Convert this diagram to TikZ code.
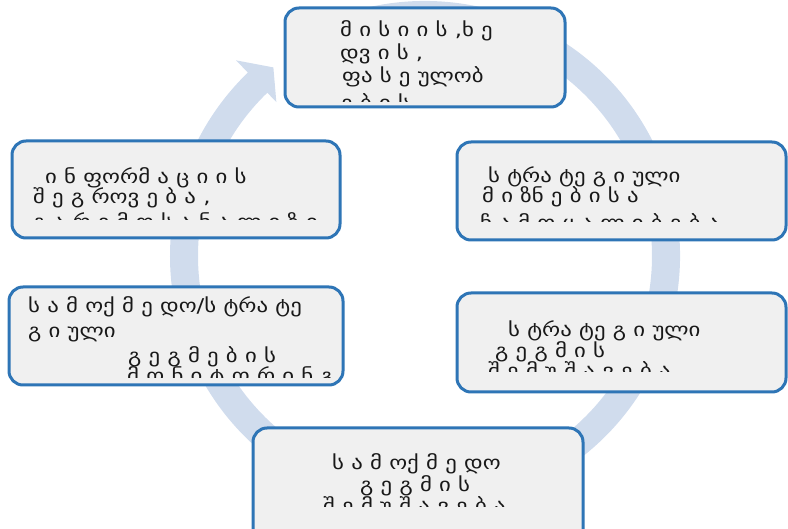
\documentclass[tikz,border=0pt]{standalone}
\usepackage{fontspec}
\newfontfamily\geo[FakeStretch=1.2]{DejaVu Sans}
\definecolor{ringc}{RGB}{208,220,237}
\definecolor{boxline}{RGB}{46,117,182}
\definecolor{boxfill}{RGB}{240,240,240}
\definecolor{txt}{RGB}{25,25,25}
\tikzset{
  stagebox/.style={draw=boxline, line width=3pt, fill=boxfill, rounded corners=14pt},
  ln/.style={anchor=base west, inner sep=0pt, text=txt, font=\geo\fontsize{19}{21}\selectfont}
}
\begin{document}
\begin{tikzpicture}[x=1pt,y=1pt]
\useasboundingbox (0,0) rectangle (788,-529);
% ring arrow
\begin{scope}[shift={(425,-256)}]
\fill[ringc] (118:255) arc[start angle=118, end angle=-226, radius=255]
  -- (-226:272) -- (-231.2:242) -- (-226:214) -- (-226:227)
  arc[start angle=-226, end angle=118, radius=227] -- cycle;
\end{scope}
% boxes
\draw[stagebox] (285,-8) rectangle (565,-107);
\draw[stagebox] (457,-142) rectangle (786,-240);
\draw[stagebox] (457,-293) rectangle (786,-392);
\draw[stagebox] (253,-428) rectangle (583,-545);
\draw[stagebox] (9,-287) rectangle (343,-385);
\draw[stagebox] (12,-141) rectangle (340,-238);
% texts
\begin{scope}
\clip (290,-10) rectangle (560,-102);
\node[ln] (t1a) at (340,-37) {მ ი ს ი ი ს ,ხ ე};
\node[ln] (t1b) at (340,-60) {დვ ი ს ,};
\node[ln] (t1c) at (342,-83) {ფა ს ე ულობ};
\node[ln] (t1d) at (341,-110) {ე ბ ი ს};
\end{scope}
\begin{scope}
\clip (462,-145) rectangle (780,-222);
\node[ln] (t2a) at (488,-183) {ს ტრა ტე გ ი ული};
\node[ln] (t2b) at (482,-203) {მ ი ზნ ე ბ ი ს ა};
\node[ln] (t2c) at (480,-230) {ჩ ა მ ო ყ ა ლ ი ბ ე ბ ა};
\end{scope}
\begin{scope}
\clip (462,-296) rectangle (780,-372);
\node[ln] (t3a) at (508,-337) {ს ტრა ტე გ ი ული};
\node[ln] (t3b) at (495,-358) {გ ე გ მ ი ს};
\node[ln] (t3c) at (488,-378) {შ ე მ უ შ ა ვ ე ბ ა};
\end{scope}
\begin{scope}
\clip (258,-431) rectangle (578,-507);
\node[ln] (t4a) at (332,-470) {ს ა მ ოქ მ ე დო};
\node[ln] (t4b) at (360,-492) {გ ე გ მ ი ს};
\node[ln] (t4c) at (323,-513) {შ ე მ უ შ ა ვ ე ბ ა};
\end{scope}
\begin{scope}
\clip (14,-290) rectangle (338,-378);
\node[ln] (t5a) at (28,-313) {ს ა მ ოქ მ ე დო/ს ტრა ტე};
\node[ln] (t5b) at (28,-338) {გ ი ული};
\node[ln] (t5c) at (128,-363) {გ ე გ მ ე ბ ი ს};
\node[ln] (t5d) at (127,-383) {მ ო ნ ი ტ ო რ ი ნ გ ი};
\end{scope}
\begin{scope}
\clip (17,-144) rectangle (335,-220);
\node[ln] (t6a) at (45,-184) {ი ნ ფორმ ა ც ი ი ს};
\node[ln] (t6b) at (33,-204) {შ ე გ როვ ე ბ ა ,};
\node[ln] (t6c) at (33,-229) {გ ა რ ე მ ო ს ა ნ ა ლ ი ზ ი};
\end{scope}
\end{tikzpicture}
\end{document}
